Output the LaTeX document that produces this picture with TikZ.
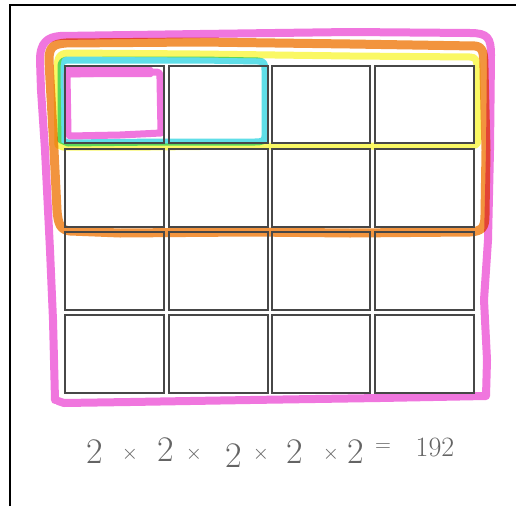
\documentclass[tikz,border=0pt]{standalone}
\usetikzlibrary{calc}
\definecolor{mpink}{RGB}{240,118,222}
\definecolor{morange}{RGB}{242,148,62}
\definecolor{myellow}{RGB}{250,248,100}
\definecolor{mcyan}{RGB}{95,222,232}
\definecolor{inkgray}{RGB}{100,100,100}
\tikzset{
  cell/.style={draw=black!72,line width=1.5pt},
  marker/.style={line width=#1,line join=round,line cap=round},
  marker/.default=7pt,
  hand/.style={text=inkgray,font=\fontsize{36}{36}\selectfont,inner sep=0pt},
  handsm/.style={text=inkgray,font=\fontsize{22}{22}\selectfont,inner sep=0pt},
  frameline/.style={draw=black,line width=2pt}
}
\begin{document}
\begin{tikzpicture}[x=1pt,y=-1pt]
\useasboundingbox (0,0) rectangle (516,506);
\fill[white] (0,0) rectangle (516,506);
% frame
\draw[frameline] (10,506) -- (10,5) -- (516,5);
\begin{scope}[blend mode=multiply]
% pink outer
\draw[mpink,marker=8pt] (55,400) -- (53,320) -- (50,250) -- (45,150) -- (41,90) -- (40,60)
  .. controls (40,42) and (48,37) .. (60,36) -- (200,34) -- (350,32) -- (470,33)
  .. controls (488,33) and (491,38) .. (491,55) -- (490,150) -- (488,240)
  -- (484,300) -- (487,360) -- (486,396) -- (380,398) -- (250,400) -- (130,402)
  -- (64,403) -- (58,401);
% orange
\draw[morange,marker=9pt] (50,80) -- (49,60) .. controls (49,47) and (53,44) .. (66,43)
  -- (200,42) -- (350,44) -- (475,46) .. controls (483,47) and (484,52) .. (484,70)
  -- (486,150) -- (485,215) .. controls (485,228) and (482,231) .. (470,232)
  -- (350,233) -- (250,232) -- (120,233) -- (70,231)
  .. controls (61,230) and (58,225) .. (57,210) -- (54,150) -- (50,80);
% yellow
\draw[myellow,marker=7pt] (58,145) -- (57,70) .. controls (57,56) and (60,53) .. (70,53)
  -- (200,54) -- (350,56) -- (470,57) .. controls (476,57) and (477,60) .. (477,70)
  -- (478,140) .. controls (478,145) and (475,146) .. (468,146)
  -- (350,146) -- (250,146) -- (150,147) -- (63,147) -- (58,145);
% cyan
\draw[mcyan,marker=7pt] (61,140) -- (61,68) .. controls (61,61) and (63,60) .. (70,60)
  -- (200,60) -- (258,61) .. controls (264,61) and (265,64) .. (265,70)
  -- (265,136) .. controls (265,141) and (262,142) .. (255,142)
  -- (160,142) -- (68,143) -- (61,140);
\end{scope}
% pink small
\draw[mpink,marker=7pt] (68,134) -- (67,74) -- (120,73) -- (156,72)
  .. controls (160,72) and (160,74) .. (160,79) -- (161,133) -- (120,135) -- (70,136) -- (68,134);
\fill[mpink,rounded corners=2pt] (65,67) rectangle (153,77);
% grid
\foreach \c/\xa/\xb in {1/64/163,2/168/267,3/271/369,4/374/473}{
  \foreach \r/\ya/\yb in {1/65/142,2/148/226,3/231/309,4/314/392}{
    \node[cell,minimum width={(\xb-\xa)*1pt},minimum height={(\yb-\ya)*1pt},anchor=north west,inner sep=0pt] (c\r\c) at (\xa,\ya) {};
  }
}
% equation
\node[hand] (t1) at (95,452) {2};
\node[handsm] (x1) at (130,454) {$\times$};
\node[hand] (t2) at (166,450) {2};
\node[handsm] (x2) at (194,454) {$\times$};
\node[hand] (t3) at (234,456) {2};
\node[handsm] (x3) at (261,454) {$\times$};
\node[hand] (t4) at (295,452) {2};
\node[handsm] (x4) at (331,454) {$\times$};
\node[hand] (t5) at (356,452) {2};
\node[handsm] (eq) at (383,448) {=};
\node[hand,font=\fontsize{28}{28}\selectfont] (res) at (435,447) {192};
\end{tikzpicture}
\end{document}
